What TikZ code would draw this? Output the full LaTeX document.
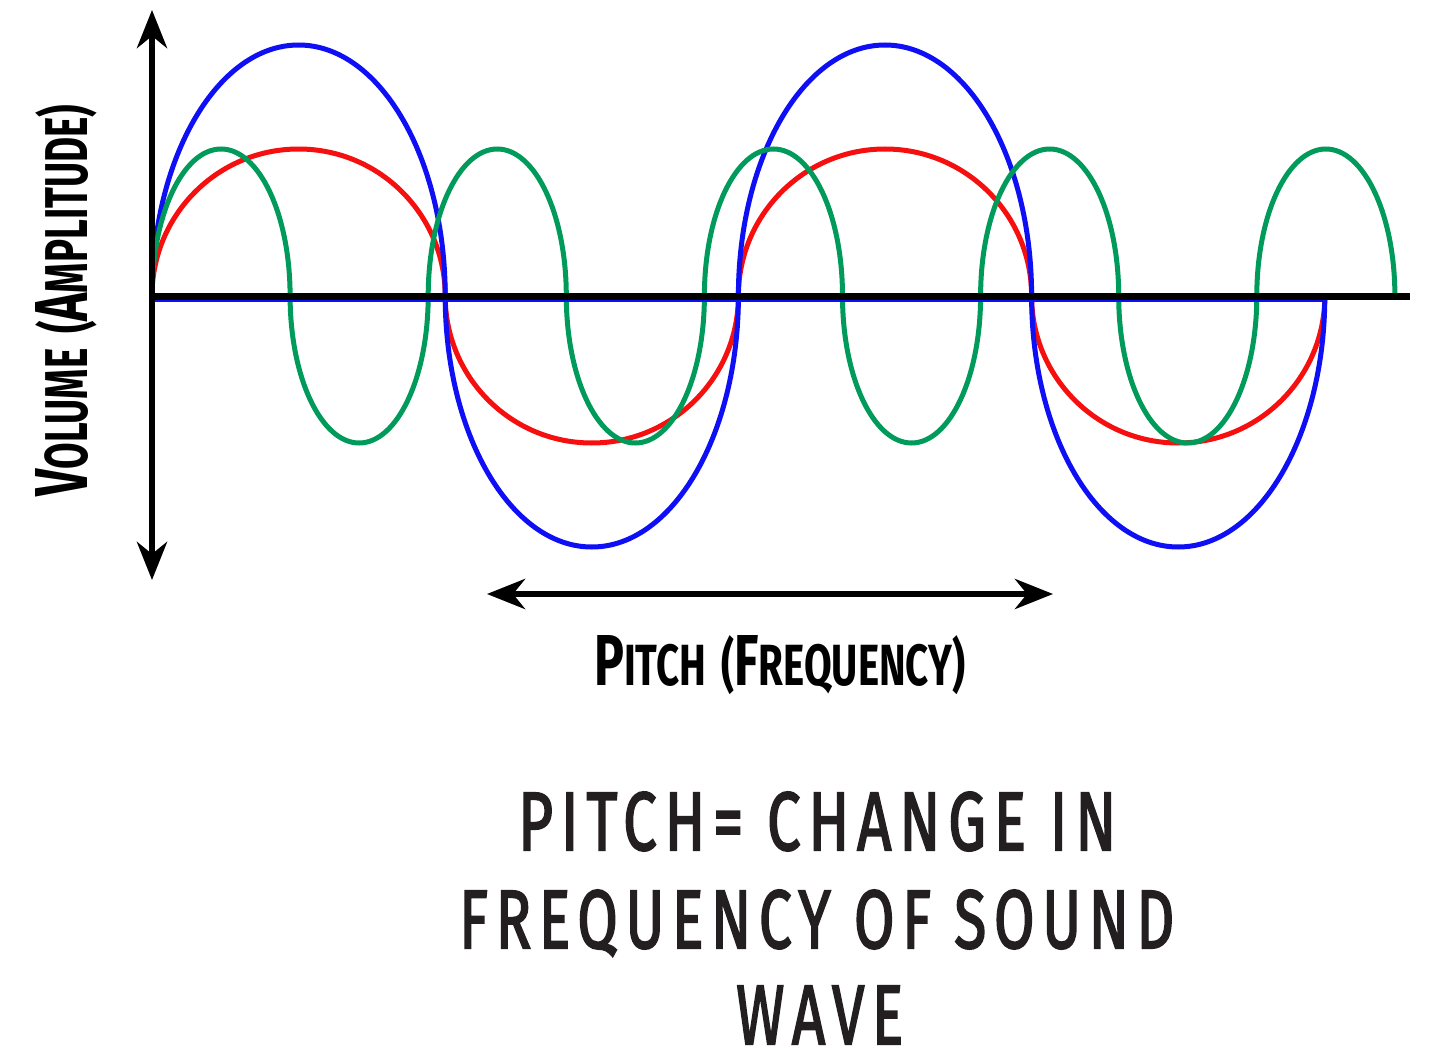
\documentclass[tikz,border=0pt]{standalone}
\usepackage{fontspec}
\setmainfont{Fira Sans}
\newfontfamily\capfont[LetterSpace=13,FakeBold=2.5]{Fira Sans}
\usetikzlibrary{arrows.meta}
\definecolor{wblue}{RGB}{15,15,245}
\definecolor{wred}{RGB}{245,15,15}
\definecolor{wgreen}{RGB}{0,155,90}
\definecolor{ink}{RGB}{35,31,32}
\newcommand\bigsc[1]{{\fontsize{72}{72}\selectfont #1}}
\newcommand\smsc[1]{{\fontsize{58}{58}\selectfont #1}}
\tikzset{bighead/.tip={Stealth[length=38pt,width=30pt,inset=12pt]}}
\begin{document}
\begin{tikzpicture}[x=1pt,y=-1pt,
  wave/.style={line width=5pt},
  bup/.style={start angle=180,end angle=0,x radius=146.6pt,y radius=251pt},
  bdn/.style={start angle=180,end angle=360,x radius=146.6pt,y radius=251pt},
  rup/.style={start angle=180,end angle=0,x radius=146.6pt,y radius=147pt},
  rdn/.style={start angle=180,end angle=360,x radius=146.6pt,y radius=147pt},
  gup/.style={start angle=180,end angle=0,x radius=69.05pt,y radius=147pt},
  gdn/.style={start angle=180,end angle=360,x radius=69.05pt,y radius=147pt},
  handlbl/.style={inner sep=0pt,font=\bfseries,text=black},
  caplbl/.style={inner sep=0pt,text=ink,anchor=base west}]
\fill[white] (0,0) rectangle (1433,1054);
\useasboundingbox (0,0) rectangle (1433,1054);
% coordinates
\coordinate (o) at (152,296);
\coordinate (vtop) at (152,10);
\coordinate (vbot) at (152,580);
\coordinate (xend) at (1410,296);
\coordinate (xstart) at (149,296);
\coordinate (pl) at (487,594);
\coordinate (pr) at (1053,594);
% red wave
\draw[wave,wred] (o) arc[rup] arc[rdn] arc[rup] arc[rdn];
% blue wave
\draw[wave,wblue] (o) arc[bup] arc[bdn] arc[bup] arc[bdn];
% green wave
\draw[wave,wgreen] (o) arc[gup] arc[gdn] arc[gup] arc[gdn] arc[gup] arc[gdn] arc[gup] arc[gdn] arc[gup];
% blue base line under the axis
\draw[wblue,line width=4pt] ([yshift=-4pt]o) -- ++(1173,0);
% axes
\draw[line width=7pt] (xstart) -- (xend);
\draw[line width=6pt,bighead-bighead] (vtop) -- (vbot);
\draw[line width=6pt,bighead-bighead] (pl) -- (pr);
% labels
\node[handlbl,rotate=90,anchor=base west] (vol) at (87,497)
  {\resizebox{392pt}{52pt}{\bigsc{V}\smsc{OLUME}\hspace{22pt}\smash{\smsc{(}}\bigsc{A}\smsc{MPLITUDE}\smash{\smsc{)}}}};
\node[handlbl,anchor=base west] (pitch) at (594,685)
  {\resizebox{371pt}{50pt}{\bigsc{P}\smsc{ITCH}\hspace{22pt}\smash{\smsc{(}}\bigsc{F}\smsc{REQUENCY}\smash{\smsc{)}}}};
\node[caplbl] (t1) at (518,850) {\resizebox{598pt}{58pt}{\capfont PITCH= CHANGE IN}};
\node[caplbl] (t2) at (459,948) {\resizebox{715pt}{58pt}{\capfont FREQUENCY OF SOUND}};
\node[caplbl] (t3) at (736,1044) {\resizebox{167pt}{58pt}{\capfont WAVE}};
\end{tikzpicture}
\end{document}
